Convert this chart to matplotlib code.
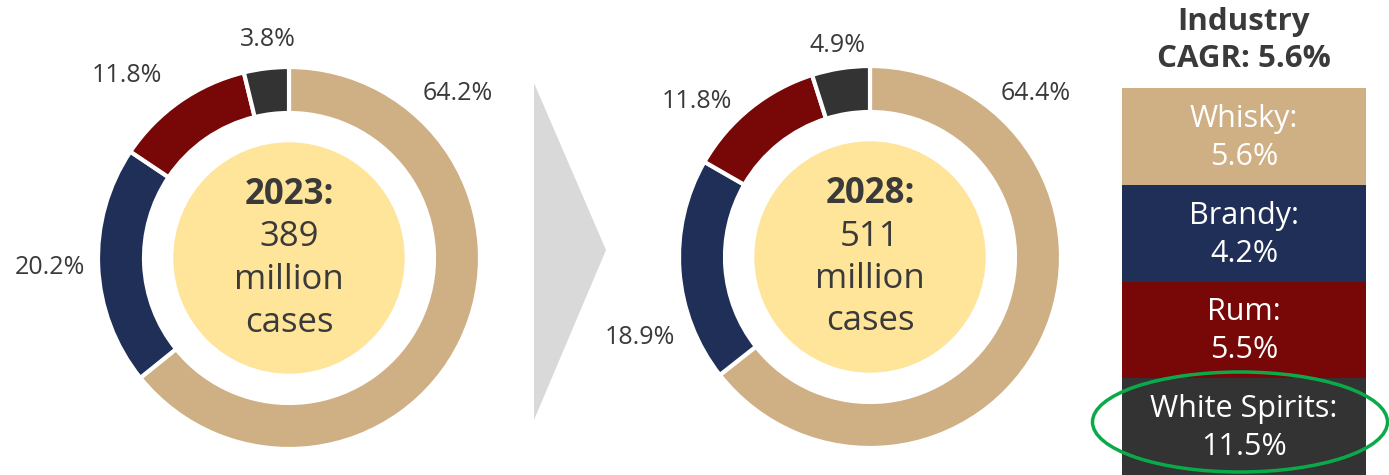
import matplotlib
matplotlib.use("Agg")
import matplotlib.pyplot as plt
from matplotlib.patches import Circle, Ellipse, Polygon

plt.rcParams['font.family'] = ['Open Sans', 'DejaVu Sans']

# data
segments = ["Whisky", "Brandy", "Rum", "White Spirits"]
share_2023 = [64.2, 20.2, 11.8, 3.8]
share_2028 = [64.4, 18.9, 11.8, 4.9]
volume_2023 = 389
volume_2028 = 511
cagr = [5.6, 4.2, 5.5, 11.5]
industry_cagr = 5.6

colors = ["#CFAF84", "#1F2F57", "#780707", "#333333"]
text_col = "#3A3A3A"
H = 475

fig = plt.figure(figsize=(13.89, 4.75), dpi=100)
ax = fig.add_axes([0, 0, 1, 1])


def donut(cx, cy, shares, year, vol, label_pos):
    c = (cx, H - cy)
    ax.pie(shares, colors=colors, startangle=90, counterclock=False,
           radius=191, center=c,
           wedgeprops=dict(width=46, edgecolor="white", linewidth=3))
    ax.add_patch(Circle(c, 115, color="#FEE59A", zorder=3))
    lines = [f"{year}:", f"{vol}", "million", "cases"]
    for k, line in enumerate(lines):
        ax.text(c[0], H - (cy - 63 + k * 42.5), line, ha="center",
                va="center", fontsize=25, color=text_col, zorder=4,
                fontweight="bold" if k == 0 else "normal")
    for s, (lx, ly) in zip(shares, label_pos):
        ax.text(lx, H - ly, f"{s}%", ha="center", va="center",
                fontsize=18, color=text_col)


donut(289, 258, share_2023, 2023, volume_2023,
      [(458, 93), (50, 268), (127, 76), (268, 39)])
donut(870, 257, share_2028, 2028, volume_2028,
      [(1036, 93), (640, 338), (697, 101), (838, 45)])

# arrow between years
ax.add_patch(Polygon([(534, H - 83), (606, H - 250), (534, H - 420)],
                     closed=True, color="#D9D9D9", lw=0))

# CAGR panel
row_top = 88
row_h = 96.75
x0, x1 = 1122, 1366
xc = (x0 + x1) / 2
for i, (name, val) in enumerate(zip(segments, cagr)):
    top = row_top + i * row_h
    ax.bar(xc, row_h, width=x1 - x0, bottom=H - top - row_h,
           color=colors[i], lw=0)
    ax.text(xc, H - (top + 31), f"{name}:", ha="center", va="center",
            fontsize=22, color="white")
    ax.text(xc, H - (top + 69), f"{val}%", ha="center", va="center",
            fontsize=22, color="white")

ax.text(xc, H - 22, "Industry", ha="center", va="center",
        fontsize=22.5, fontweight="bold", color=text_col)
ax.text(xc, H - 59, f"CAGR: {industry_cagr}%", ha="center", va="center",
        fontsize=22.5, fontweight="bold", color=text_col)

ax.add_patch(Ellipse((1240, H - 422), 295, 100, fill=False,
                     edgecolor="#0AAA4A", lw=2.5, zorder=5))

ax.set_xlim(0, 1389)
ax.set_ylim(0, H)
ax.set_aspect("auto")
ax.axis("off")
fig.savefig("out.png", dpi=100)
